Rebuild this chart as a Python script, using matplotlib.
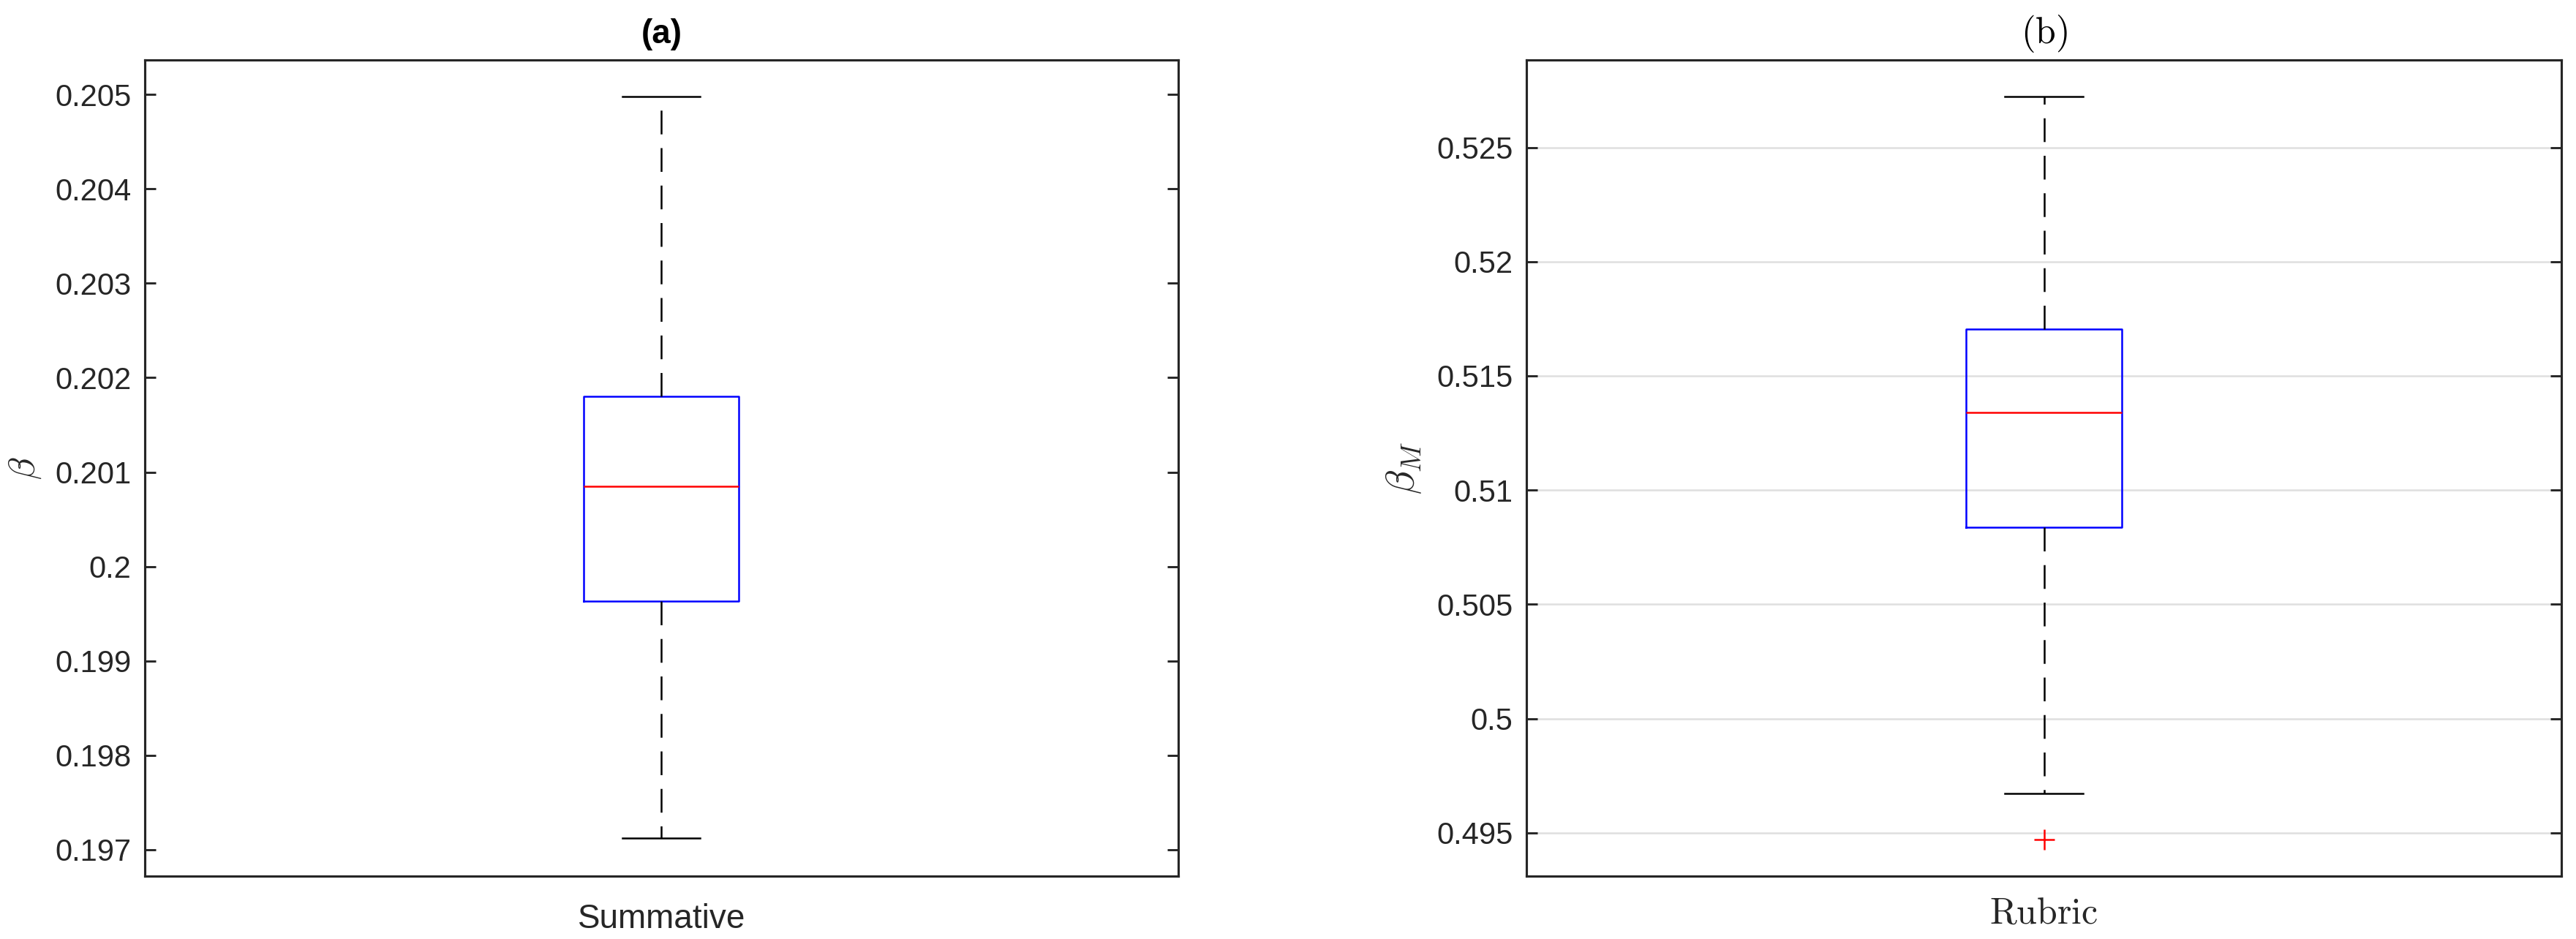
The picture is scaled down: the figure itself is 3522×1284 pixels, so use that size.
import matplotlib
matplotlib.use('Agg')
import matplotlib.pyplot as plt

plt.rcParams['font.family'] = ['Liberation Sans', 'DejaVu Sans']

# ---------------------------------------------------------------------------- #
#                          box statistics                    #
# ---------------------------------------------------------------------------- #

# (a) Summative
sum_label = 'Summative'
sum_whislo = 0.19712
sum_q1 = 0.19963
sum_med = 0.20085
sum_q3 = 0.20180
sum_whishi = 0.20498
sum_fliers = []
sum_ticks = [0.197, 0.198, 0.199, 0.200, 0.201, 0.202, 0.203, 0.204, 0.205]
sum_ylim = (0.19672, 0.20537)

# (b) Rubric
rub_label = 'Rubric'
rub_whislo = 0.49673
rub_q1 = 0.50836
rub_med = 0.51339
rub_q3 = 0.51706
rub_whishi = 0.52721
rub_fliers = [0.49472]
rub_ticks = [0.495, 0.500, 0.505, 0.510, 0.515, 0.520, 0.525]
rub_ylim = (0.49311, 0.52884)

INK = '#262626'

fig = plt.figure(figsize=(3522 / 300, 1284 / 300), dpi=300)
ax1 = fig.add_axes([0.0562, 0.0670, 0.4012, 0.8695])
ax2 = fig.add_axes([0.5926, 0.0670, 0.4017, 0.8695])


def draw_box(ax, label, whislo, q1, med, q3, whishi, fliers):
    stats = [{'label': label, 'whislo': whislo, 'q1': q1, 'med': med,
              'q3': q3, 'whishi': whishi, 'fliers': fliers}]
    ax.bxp(stats, positions=[1], widths=0.15, capwidths=0.075,
           boxprops=dict(color='#0000ff', lw=0.6),
           medianprops=dict(color='#ff0000', lw=0.6),
           whiskerprops=dict(color='black', lw=0.6, linestyle=(0, (13, 7.5))),
           capprops=dict(color='black', lw=0.6),
           flierprops=dict(marker='+', markeredgecolor='#ff0000',
                           markersize=6.5, markeredgewidth=0.6),
           zorder=3)


draw_box(ax1, sum_label, sum_whislo, sum_q1, sum_med, sum_q3, sum_whishi, sum_fliers)
draw_box(ax2, rub_label, rub_whislo, rub_q1, rub_med, rub_q3, rub_whishi, rub_fliers)

for ax, ticks, ylim in [(ax1, sum_ticks, sum_ylim), (ax2, rub_ticks, rub_ylim)]:
    ax.set_xlim(0.5, 1.5)
    ax.set_ylim(*ylim)
    ax.set_yticks(ticks)
    ax.set_yticklabels(['%g' % t for t in ticks])
    ax.tick_params(axis='y', direction='in', length=3.5, width=0.7,
                   left=True, right=True, colors=INK, labelsize=10, pad=4.5)
    ax.tick_params(axis='x', length=0, colors=INK)
    for s in ax.spines.values():
        s.set_color(INK)
        s.set_linewidth(0.75)

# left panel
ax1.tick_params(axis='x', pad=9)
ax1.set_xticklabels([sum_label], fontsize=11, color=INK)
ax1.set_title('(a)', fontsize=11, fontweight='bold', pad=5.5)
ax1.set_ylabel(r'$\beta$', fontsize=12, color=INK, math_fontfamily='cm')
ax1.yaxis.set_label_coords(-0.098, 0.5)

# right panel, LaTeX style text
ax2.tick_params(axis='x', pad=7)
ax2.set_xticklabels([r'$\mathrm{Rubric}$'], fontsize=12, color=INK,
                    math_fontfamily='cm')
ax2.set_title(r'$\mathrm{(b)}$', fontsize=12, pad=5.5, math_fontfamily='cm')
ax2.set_ylabel(r'$\beta_M$', fontsize=13, color=INK, math_fontfamily='cm')
ax2.yaxis.set_label_coords(-0.10, 0.5)
ax2.yaxis.grid(True, color='#dfdfdf', lw=0.6)
ax2.set_axisbelow(True)

fig.savefig('out.png', dpi=300)
